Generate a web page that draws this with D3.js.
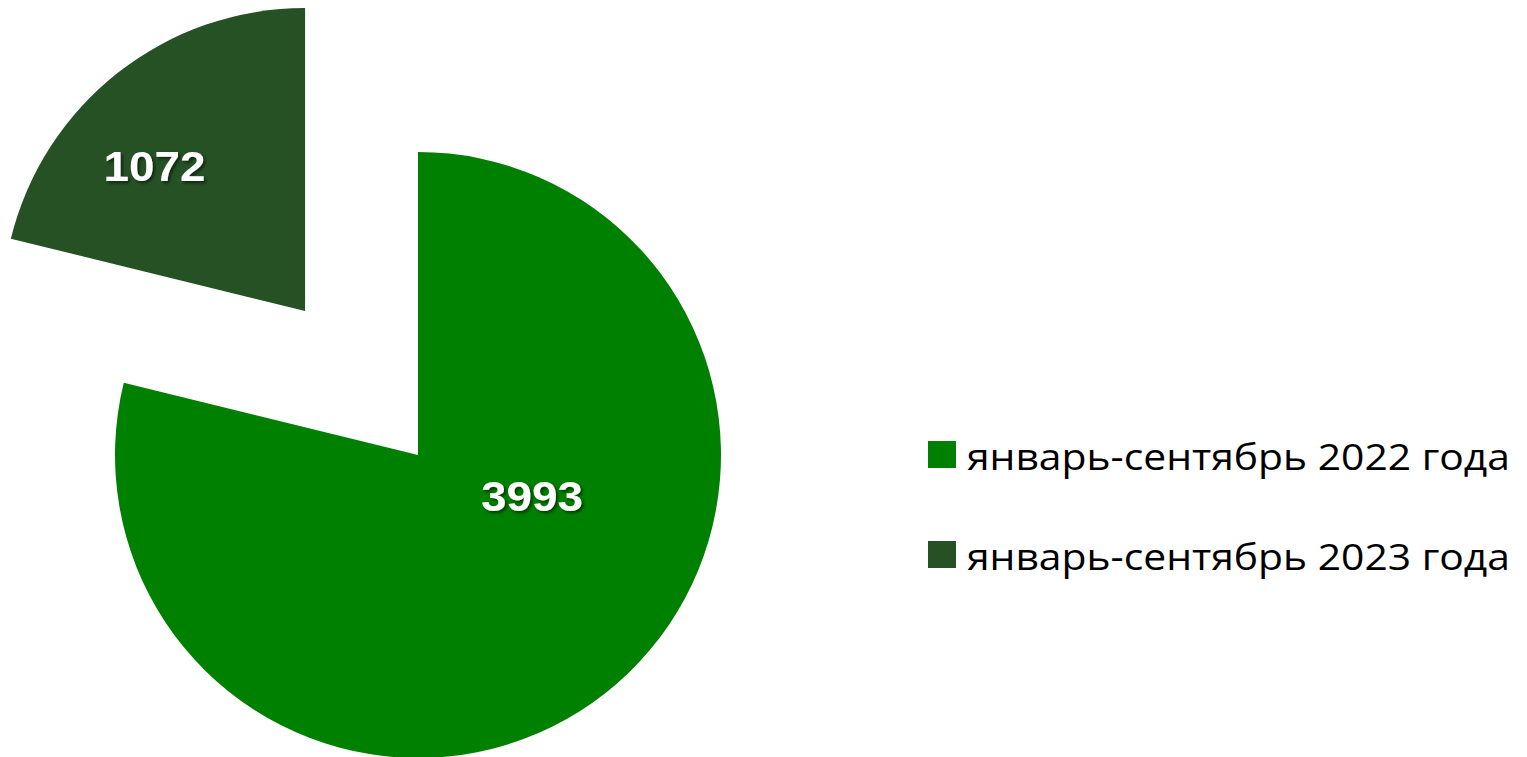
<!DOCTYPE html>
<html><head><meta charset="utf-8">
<script src="https://cdn.jsdelivr.net/npm/d3@7"></script>
<style>html,body{margin:0;padding:0;background:#fff;}svg{display:block;}</style>
</head><body>
<svg id="c" width="1527" height="757"></svg>
<script>
const categories = ["январь-сентябрь 2022 года", "январь-сентябрь 2023 года"];
const values = [3993, 1072];
const colors = ["#008000", "#255125"];

const svg = d3.select("#c");
const defs = svg.append("defs");
const f = defs.append("filter").attr("id","sh").attr("x","-20%").attr("y","-20%").attr("width","140%").attr("height","140%");
f.append("feDropShadow").attr("dx",2).attr("dy",2).attr("stdDeviation",1.5).attr("flood-color","#000").attr("flood-opacity",0.55);

const cx = 418, cy = 455, R = 303, explode = 183;
const pie = d3.pie().sort(null).startAngle(0).endAngle(2*Math.PI);
const arcs = pie(values);
const arc = d3.arc().innerRadius(0).outerRadius(R);

// label placement: [angle offset from slice mid (rad), radius fraction]
const labelPlace = [[-0.56, 0.40], [-0.14, 0.69]];

const g = svg.append("g").attr("transform", `translate(${cx},${cy})`);
arcs.forEach((a, i) => {
  const mid = (a.startAngle + a.endAngle)/2;
  const ex = i === 1 ? explode : 0;
  const dx = Math.sin(mid)*ex, dy = -Math.cos(mid)*ex;
  const sg = g.append("g").attr("transform", `translate(${dx},${dy})`);
  sg.append("path").attr("d", arc(a)).attr("fill", colors[i]);
  const la = mid + labelPlace[i][0], lr = R*labelPlace[i][1];
  sg.append("text")
    .attr("x", Math.sin(la)*lr).attr("y", -Math.cos(la)*lr)
    .attr("text-anchor","middle").attr("dominant-baseline","central")
    .attr("font-family","'Liberation Sans', Arial, sans-serif")
    .attr("font-weight","bold").attr("font-size",42)
    .attr("textLength",102).attr("lengthAdjust","spacingAndGlyphs")
    .attr("fill","#fff").attr("filter","url(#sh)")
    .text(values[i]);
});

const lg = svg.append("g").attr("transform","translate(928,441)");
categories.forEach((c, i) => {
  const row = lg.append("g").attr("transform", `translate(0,${i*100})`);
  row.append("rect").attr("width",28).attr("height",27).attr("fill",colors[i]);
  row.append("text").attr("x",39).attr("y",14).attr("dominant-baseline","central")
    .attr("font-family","'Open Sans', 'Noto Sans', sans-serif")
    .attr("font-size",37).attr("fill","#000")
    .attr("textLength",543).attr("lengthAdjust","spacingAndGlyphs")
    .text(c);
});
</script>
</body></html>
